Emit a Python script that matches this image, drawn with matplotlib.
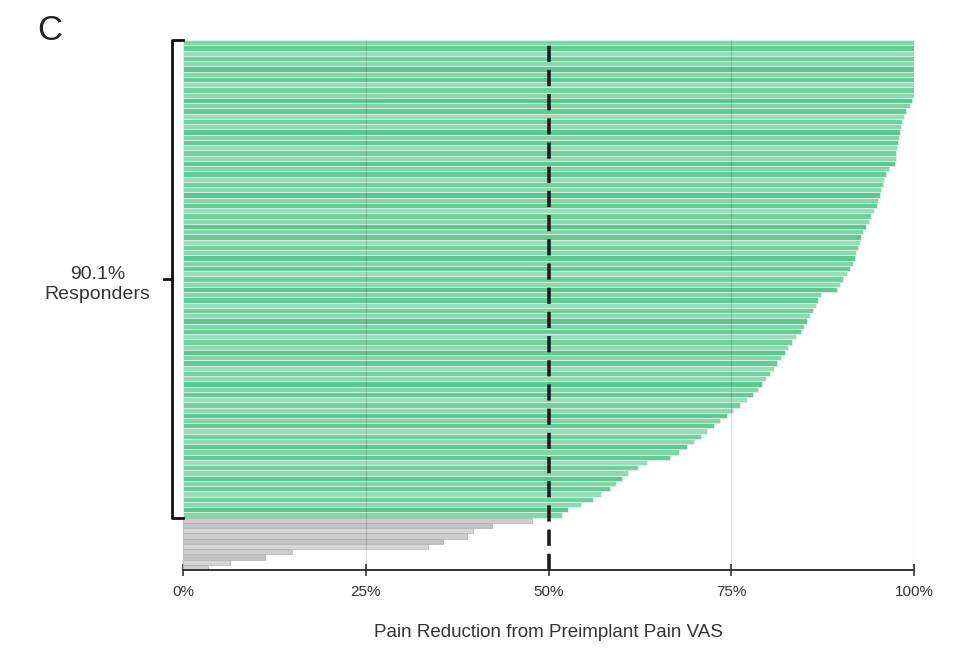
import numpy as np
import matplotlib
matplotlib.use("Agg")
import matplotlib.pyplot as plt
import matplotlib.transforms as mtransforms

plt.rcParams['font.family'] = ['Liberation Sans', 'DejaVu Sans']

# pain reduction per patient (%), sorted high to low
responders = [100, 100, 100, 100, 100, 100, 100, 100, 100, 100, 100,
              99.7, 99.4, 98.9, 98.6, 98.4, 98.2, 98.1, 97.9, 97.8, 97.7,
              97.6, 97.5, 97.4, 96.6, 96.1, 95.9, 95.7, 95.5, 95.3, 95.1,
              94.9, 94.5, 94.1, 93.8, 93.4, 93.0, 92.8, 92.6, 92.4, 92.1,
              91.9, 91.6, 91.2, 90.8, 90.3, 89.9, 89.5, 87.3, 86.9, 86.6,
              86.2, 85.8, 85.4, 85.0, 84.5, 83.9, 83.3, 82.8, 82.3, 81.8,
              81.3, 80.8, 80.3, 79.8, 79.2, 78.6, 78.0, 77.1, 76.2, 75.2,
              74.4, 73.5, 72.6, 71.7, 70.8, 69.9, 69.0, 67.8, 66.6, 63.5,
              62.2, 60.9, 60.0, 59.2, 58.4, 57.2, 56.1, 54.4, 52.6, 51.8]
non_responders = [47.7, 42.3, 39.7, 38.8, 35.6, 33.5, 14.9, 11.2, 6.4, 3.4]

xticks = [0, 25, 50, 75, 100]
xtick_labels = ['0%', '25%', '50%', '75%', '100%']
responder_label = '90.1%\nResponders'
xlabel = 'Pain Reduction from Preimplant Pain VAS'

values = responders + non_responders
n = len(values)
n_resp = len(responders)

green_shades = ['#7fd7a7', '#65ca94', '#96deb8', '#72d09d', '#8adaaf', '#5fc68f']
gray_shades = ['#cdcdcd', '#c2c2c2', '#d6d6d6']
colors = [green_shades[i % len(green_shades)] for i in range(n_resp)] + \
         [gray_shades[i % len(gray_shades)] for i in range(n - n_resp)]
edges = ['#e2f6ea'] * n_resp + ['#b0b0b0'] * (n - n_resp)

fig = plt.figure(figsize=(9.7, 6.7), dpi=100)
ax = fig.add_axes([0.1887, 0.149, 0.7536, 0.791])

ypos = np.arange(n)
ax.barh(ypos, values, height=1.0, color=colors, edgecolor=edges, linewidth=0.5, zorder=2)

ax.set_xlim(0, 100)
ax.set_ylim(n - 0.5, -0.5)

# light vertical grid
for x in [25, 75, 100]:
    ax.axvline(x, color='black', alpha=0.13, linewidth=0.9, zorder=3)

# responder threshold
ax.axvline(50, color='#1e1e1e', linewidth=2.6, linestyle=(0, (4.5, 2.2)), zorder=4)

for s in ['top', 'right', 'left']:
    ax.spines[s].set_visible(False)
ax.spines['bottom'].set_linewidth(1.4)
ax.spines['bottom'].set_color('#333333')
ax.set_yticks([])
ax.set_xticks(xticks)
ax.set_xticklabels(xtick_labels, fontsize=11, color='#333333')
ax.tick_params(axis='x', direction='inout', length=9, width=1.2, color='#333333', pad=6)
ax.set_xlabel(xlabel, fontsize=13.5, color='#333333', labelpad=18)

# bracket for responders
trans = mtransforms.blended_transform_factory(ax.transAxes, ax.transData)
bx = -0.0145
hook = 0.0145
top = -0.5
bot = n_resp - 0.5
ax.plot([bx + hook, bx, bx, bx + hook], [top, top, bot, bot], transform=trans,
        color='#111111', linewidth=2.0, clip_on=False, solid_joinstyle='round')
mid = (top + bot) / 2
ax.plot([bx - 0.011, bx], [mid, mid], transform=trans, color='#111111',
        linewidth=2.0, clip_on=False)
ax.text(-0.117, mid + 1, responder_label, transform=trans, ha='center', va='center',
        fontsize=14, color='#333333', linespacing=1.25)

fig.text(0.038, 0.955, 'C', fontsize=25, color='#222222', va='center', ha='left')

fig.savefig('out.png', dpi=100, facecolor='white')
